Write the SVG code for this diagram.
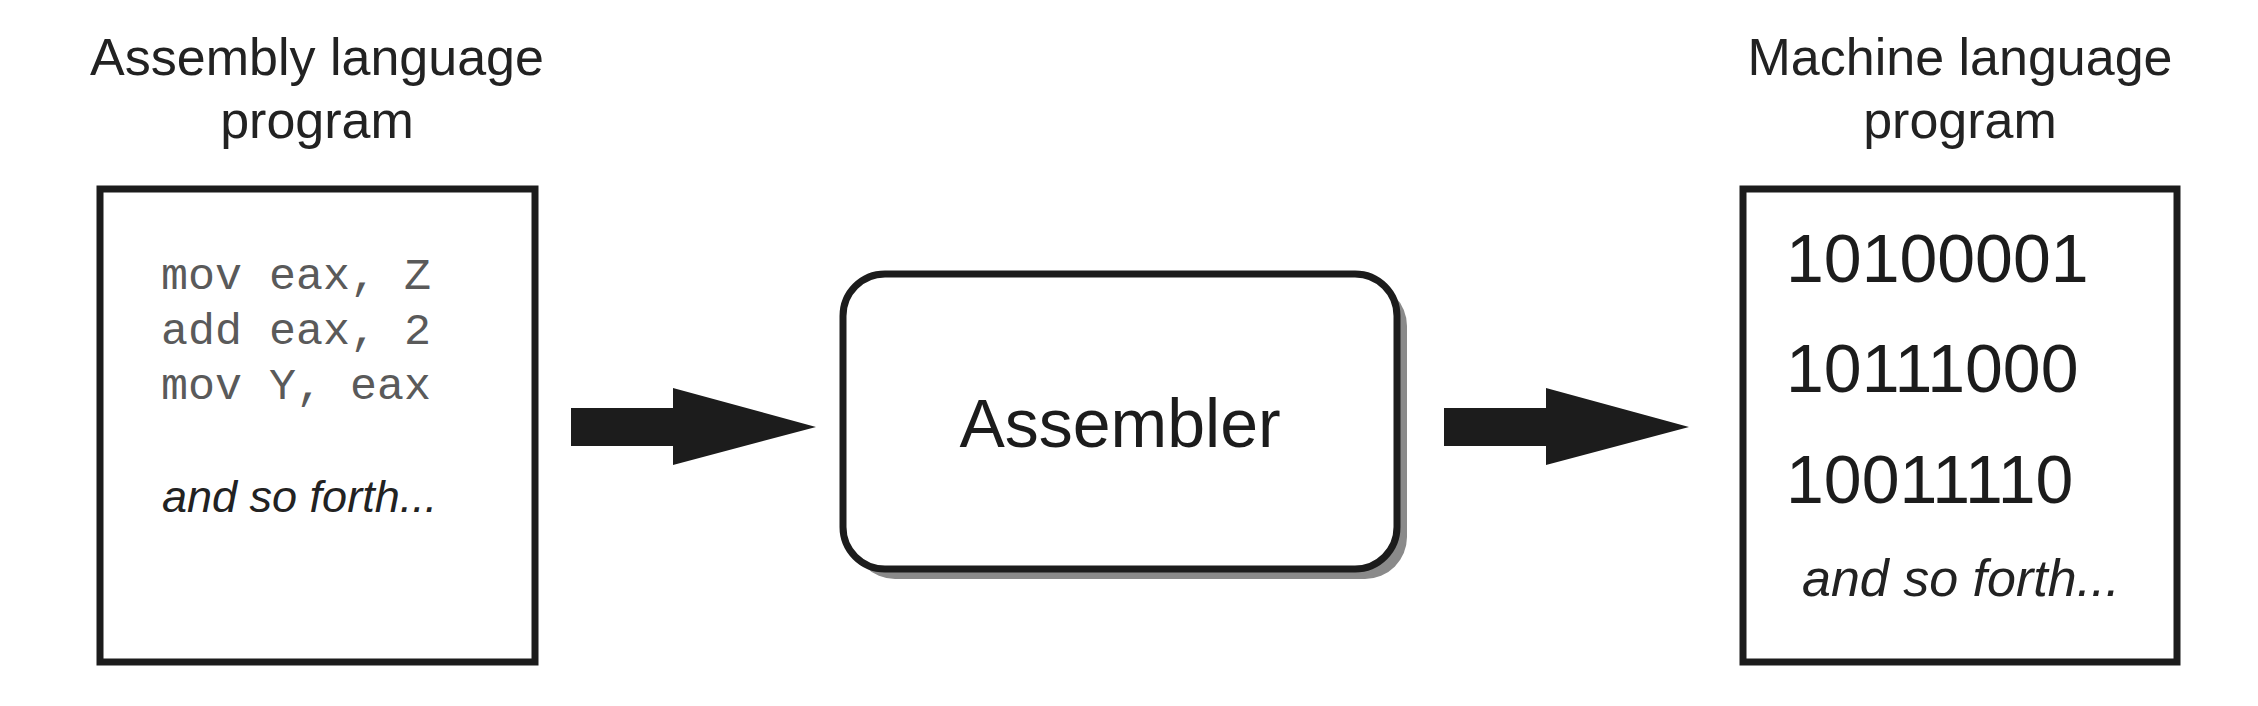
<svg xmlns="http://www.w3.org/2000/svg" width="2258" height="706" viewBox="0 0 2258 706">
<style>
.title{font-family:"Liberation Sans",Arial,sans-serif;font-size:52px;fill:#222;text-anchor:middle}
.box{fill:#fff;stroke:#1c1c1c;stroke-width:7}
.code{font-family:"Liberation Mono","Courier New",monospace;font-size:45px;fill:#5a5a5a}
.ital{font-family:"Liberation Sans",Arial,sans-serif;font-style:italic;fill:#222}
.bin{font-family:"Liberation Sans",Arial,sans-serif;font-size:68px;fill:#1c1c1c}
.arrow{fill:#1c1c1c}
</style>
<rect width="2258" height="706" fill="#fff"/>
<g id="assembly-program">
<text class="title" x="317" y="75">Assembly language</text>
<text class="title" x="317" y="138">program</text>
<rect class="box" x="100" y="189" width="435" height="473"/>
<text class="code" x="161" y="289">mov eax, Z</text>
<text class="code" x="161" y="344">add eax, 2</text>
<text class="code" x="161" y="399">mov Y, eax</text>
<text class="ital" x="162" y="512" font-size="45">and so forth...</text>
</g>
<g id="assembler">
<rect x="853" y="284" width="554" height="295" rx="42" ry="42" fill="#8a8a8a"/>
<rect class="box" x="843" y="274" width="554" height="295" rx="42" ry="42" fill="#fefefc"/>
<text x="1120" y="447" font-family="Liberation Sans, Arial, sans-serif" font-size="68" fill="#1c1c1c" text-anchor="middle">Assembler</text>
</g>
<g id="machine-program">
<text class="title" x="1960" y="75">Machine language</text>
<text class="title" x="1960" y="138">program</text>
<rect class="box" x="1743" y="189" width="434" height="473"/>
<text class="bin" x="1786" y="282">10100001</text>
<text class="bin" x="1786" y="392">10111000</text>
<text class="bin" x="1786" y="503">10011110</text>
<text class="ital" x="1802" y="596" font-size="52">and so forth...</text>
</g>
<g id="connectors">
<polygon class="arrow" points="571,408 673,408 673,388 816,427 673,465 673,446 571,446"/>
<polygon class="arrow" points="1444,408 1546,408 1546,388 1689,427 1546,465 1546,446 1444,446"/>
</g>
</svg>
